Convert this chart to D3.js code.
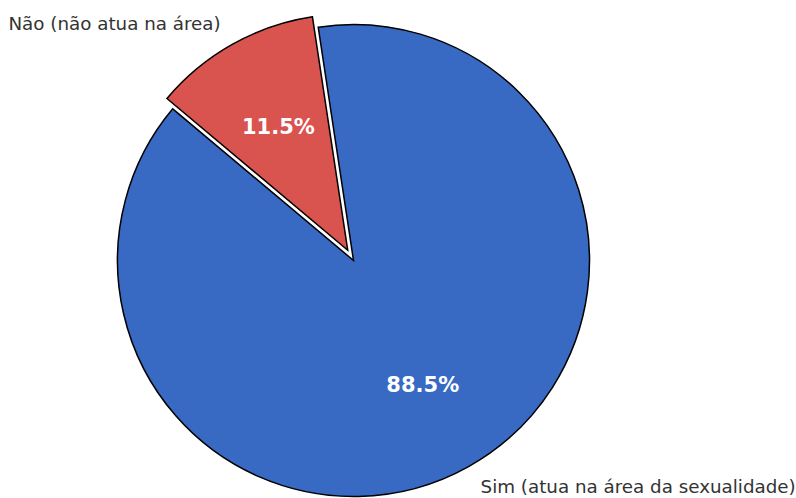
<!DOCTYPE html>
<html>
<head>
<meta charset="utf-8">
<script src="https://cdn.jsdelivr.net/npm/d3@7"></script>
<style>
  body { margin: 0; background: #fff; }
  svg { display: block; font-family: "DejaVu Sans", sans-serif; }
</style>
</head>
<body>
<svg id="chart" width="796" height="498"></svg>
<script>
var labels = ["Sim (atua na área da sexualidade)", "Não (não atua na área)"];
var values = [88.5, 11.5];
var colors = ["#3869c3", "#d9534f"];
var explode = [0, 0.05];

var width = 796, height = 498;
var cx = 353.5, cy = 260.5, radius = 236;
// matplotlib-like start angle of 140deg (ccw from x axis), drawn counterclockwise
var startDeg = 90 - 140;

var svg = d3.select("#chart");
var g = svg.append("g").attr("transform", "translate(" + cx + "," + cy + ")");

var total = d3.sum(values);
var angle = d3.scaleLinear().domain([0, total]).range([0, 2 * Math.PI]);

// build slices going counterclockwise (d3 angles decrease)
var slices = [];
var acc = 0;
values.forEach(function(v, i) {
    var a0 = startDeg * Math.PI / 180 - angle(acc);
    var a1 = startDeg * Math.PI / 180 - angle(acc + v);
    slices.push({ i: i, startAngle: a1, endAngle: a0, mid: (a0 + a1) / 2 });
    acc += v;
});

var arc = d3.arc().innerRadius(0).outerRadius(radius);

var wedge = g.selectAll("g.slice").data(slices).enter().append("g")
    .attr("class", "slice")
    .attr("transform", function(d) {
        var off = explode[d.i] * radius;
        return "translate(" + (Math.sin(d.mid) * off) + "," + (-Math.cos(d.mid) * off) + ")";
    });

wedge.append("path")
    .attr("d", arc)
    .attr("fill", function(d) { return colors[d.i]; })
    .attr("stroke", "#000")
    .attr("stroke-width", 1.5)
    .attr("stroke-linejoin", "miter");

wedge.append("text")
    .attr("x", function(d) { return Math.sin(d.mid) * radius * 0.6; })
    .attr("y", function(d) { return -Math.cos(d.mid) * radius * 0.6; })
    .attr("dy", "0.36em")
    .attr("text-anchor", "middle")
    .attr("fill", "#fff")
    .attr("font-weight", "bold")
    .attr("font-size", 21)
    .text(function(d) { return values[d.i].toFixed(1) + "%"; });

wedge.append("text")
    .attr("x", function(d) { return Math.sin(d.mid) * radius * 1.1; })
    .attr("y", function(d) { return -Math.cos(d.mid) * radius * 1.1; })
    .attr("dy", "0.36em")
    .attr("text-anchor", function(d) { return Math.sin(d.mid) > 0 ? "start" : "end"; })
    .attr("fill", "#333")
    .attr("font-size", 18.3)
    .text(function(d) { return labels[d.i]; });
</script>
</body>
</html>
